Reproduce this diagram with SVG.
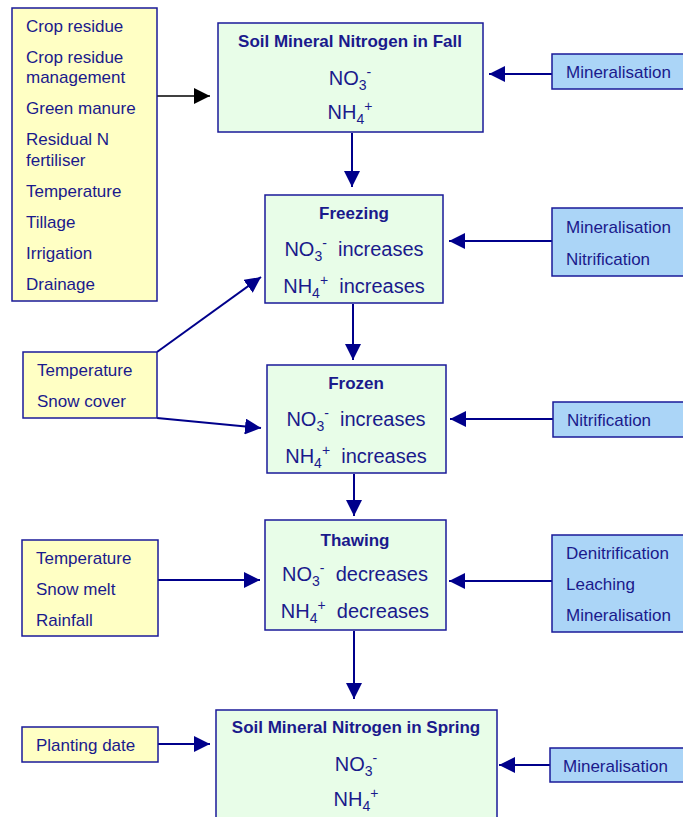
<svg xmlns="http://www.w3.org/2000/svg" width="683" height="817" viewBox="0 0 683 817">
<defs>
<style>
.y{fill:#ffffc4;stroke:#1a1a99;stroke-width:1.5}
.g{fill:#e8fde8;stroke:#1a1a99;stroke-width:1.5}
.b{fill:#abd5f7;stroke:#1a1a99;stroke-width:1.5}
text{font-family:"Liberation Sans",Arial,sans-serif;fill:#1a1a8c}
.s{font-size:17px}
.t{font-size:17px;font-weight:bold;text-anchor:middle}
.m{font-size:20px;text-anchor:middle;white-space:pre}
.c{stroke:#00008b;stroke-width:2;fill:none}
</style>
<marker id="a" viewBox="0 0 10 10" refX="10" refY="5" markerWidth="16" markerHeight="16" markerUnits="userSpaceOnUse" orient="auto"><path d="M0,0L10,5L0,10z" fill="#00008b"/></marker>
<marker id="k" viewBox="0 0 10 10" refX="10" refY="5" markerWidth="16" markerHeight="16" markerUnits="userSpaceOnUse" orient="auto"><path d="M0,0L10,5L0,10z" fill="#000"/></marker>
</defs>
<rect width="683" height="817" fill="#fff"/>
<g id="connectors">
<line x1="157" y1="96" x2="210" y2="96" stroke="#000" stroke-width="1.5" marker-end="url(#k)"/>
<line class="c" x1="552" y1="74" x2="489" y2="74" marker-end="url(#a)"/>
<line class="c" x1="352" y1="133" x2="352" y2="187" marker-end="url(#a)"/>
<line class="c" x1="552" y1="241" x2="449" y2="241" marker-end="url(#a)"/>
<line class="c" x1="353" y1="304" x2="353" y2="360" marker-end="url(#a)"/>
<line class="c" x1="157" y1="352" x2="261" y2="277" marker-end="url(#a)"/>
<line class="c" x1="157" y1="418" x2="261" y2="428" marker-end="url(#a)"/>
<line class="c" x1="553" y1="419" x2="450" y2="419" marker-end="url(#a)"/>
<line class="c" x1="354" y1="474" x2="354" y2="516" marker-end="url(#a)"/>
<line class="c" x1="158" y1="580" x2="260" y2="580" marker-end="url(#a)"/>
<line class="c" x1="552" y1="581" x2="449" y2="581" marker-end="url(#a)"/>
<line class="c" x1="354" y1="631" x2="354" y2="699" marker-end="url(#a)"/>
<line class="c" x1="158" y1="744" x2="210" y2="744" marker-end="url(#a)"/>
<line class="c" x1="550" y1="765" x2="499" y2="765" marker-end="url(#a)"/>
</g>
<g id="fall-factors">
<rect class="y" x="12" y="8" width="145" height="293"/>
<text class="s" x="26" y="32">Crop residue</text>
<text class="s" x="26" y="63">Crop residue</text>
<text class="s" x="26" y="83">management</text>
<text class="s" x="26" y="114">Green manure</text>
<text class="s" x="26" y="145">Residual N</text>
<text class="s" x="26" y="166">fertiliser</text>
<text class="s" x="26" y="197">Temperature</text>
<text class="s" x="26" y="228">Tillage</text>
<text class="s" x="26" y="259">Irrigation</text>
<text class="s" x="26" y="290">Drainage</text>
</g>
<g id="fall">
<rect class="g" x="218" y="23" width="265" height="109"/>
<text class="t" x="350" y="47">Soil Mineral Nitrogen in Fall</text>
<text class="m" x="350" y="85">NO<tspan font-size="14" dy="5">3</tspan><tspan font-size="14" dy="-13">-</tspan></text>
<text class="m" x="350" y="119">NH<tspan font-size="14" dy="5">4</tspan><tspan font-size="14" dy="-13">+</tspan></text>
</g>
<g id="fall-min">
<rect class="b" x="552" y="54" width="135" height="35"/>
<text class="s" x="566" y="78">Mineralisation</text>
</g>
<g id="freezing">
<rect class="g" x="265" y="195" width="178" height="108"/>
<text class="t" x="354" y="219">Freezing</text>
<text class="m" x="354" y="256">NO<tspan font-size="14" dy="5">3</tspan><tspan font-size="14" dy="-13">-</tspan><tspan dy="8">  increases</tspan></text>
<text class="m" x="354" y="293">NH<tspan font-size="14" dy="5">4</tspan><tspan font-size="14" dy="-13">+</tspan><tspan dy="8">  increases</tspan></text>
</g>
<g id="freezing-proc">
<rect class="b" x="552" y="208" width="135" height="68"/>
<text class="s" x="566" y="233">Mineralisation</text>
<text class="s" x="566" y="265">Nitrification</text>
</g>
<g id="temp-snow">
<rect class="y" x="23" y="352" width="134" height="66"/>
<text class="s" x="37" y="376">Temperature</text>
<text class="s" x="37" y="407">Snow cover</text>
</g>
<g id="frozen">
<rect class="g" x="267" y="365" width="179" height="108"/>
<text class="t" x="356" y="389">Frozen</text>
<text class="m" x="356" y="426">NO<tspan font-size="14" dy="5">3</tspan><tspan font-size="14" dy="-13">-</tspan><tspan dy="8">  increases</tspan></text>
<text class="m" x="356" y="463">NH<tspan font-size="14" dy="5">4</tspan><tspan font-size="14" dy="-13">+</tspan><tspan dy="8">  increases</tspan></text>
</g>
<g id="frozen-proc">
<rect class="b" x="553" y="402" width="134" height="35"/>
<text class="s" x="567" y="426">Nitrification</text>
</g>
<g id="thaw-factors">
<rect class="y" x="22" y="540" width="136" height="96"/>
<text class="s" x="36" y="564">Temperature</text>
<text class="s" x="36" y="595">Snow melt</text>
<text class="s" x="36" y="626">Rainfall</text>
</g>
<g id="thawing">
<rect class="g" x="265" y="520" width="181" height="110"/>
<text class="t" x="355" y="546">Thawing</text>
<text class="m" x="355" y="581">NO<tspan font-size="14" dy="5">3</tspan><tspan font-size="14" dy="-13">-</tspan><tspan dy="8">  decreases</tspan></text>
<text class="m" x="355" y="618">NH<tspan font-size="14" dy="5">4</tspan><tspan font-size="14" dy="-13">+</tspan><tspan dy="8">  decreases</tspan></text>
</g>
<g id="thaw-proc">
<rect class="b" x="552" y="535" width="135" height="97"/>
<text class="s" x="566" y="559">Denitrification</text>
<text class="s" x="566" y="590">Leaching</text>
<text class="s" x="566" y="621">Mineralisation</text>
</g>
<g id="planting">
<rect class="y" x="22" y="727" width="136" height="35"/>
<text class="s" x="36" y="751">Planting date</text>
</g>
<g id="spring">
<rect class="g" x="216" y="710" width="281" height="112"/>
<text class="t" x="356" y="733">Soil Mineral Nitrogen in Spring</text>
<text class="m" x="356" y="771">NO<tspan font-size="14" dy="5">3</tspan><tspan font-size="14" dy="-13">-</tspan></text>
<text class="m" x="356" y="806">NH<tspan font-size="14" dy="5">4</tspan><tspan font-size="14" dy="-13">+</tspan></text>
</g>
<g id="spring-min">
<rect class="b" x="550" y="748" width="137" height="34"/>
<text class="s" x="563" y="772">Mineralisation</text>
</g>
</svg>
